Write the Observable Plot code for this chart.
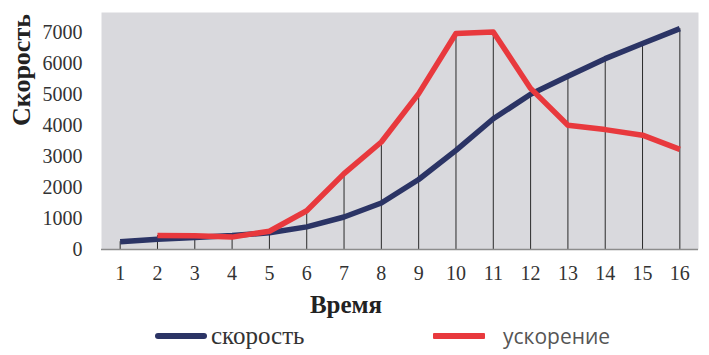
<!DOCTYPE html>
<html>
<head>
<meta charset="utf-8">
<script src="https://cdn.jsdelivr.net/npm/d3@7"></script>
<script src="https://cdn.jsdelivr.net/npm/@observablehq/plot@0.6"></script>
<style>
  body { margin: 0; background: #fff; }
  #wrap { position: relative; width: 709px; height: 355px; }
  .leg { position: absolute; top: 318px; height: 36px; display: flex; align-items: center; }
  .sw { display: inline-block; width: 52px; height: 6px; border-radius: 3px; }
  .serif { font-family: "Liberation Serif", serif; }
  .sans { font-family: "Open Sans", "Noto Sans", sans-serif; }
  svg text { font-family: "Liberation Serif", serif; }
</style>
</head>
<body>
<div id="wrap"></div>
<script>
const time = [1, 2, 3, 4, 5, 6, 7, 8, 9, 10, 11, 12, 13, 14, 15, 16];
const speed = [250, 330, 390, 450, 540, 730, 1050, 1500, 2260, 3200, 4220, 5010, 5590, 6160, 6650, 7130];
const accel = [null, 450, 440, 400, 590, 1250, 2450, 3470, 5030, 6970, 7020, 5200, 4010, 3870, 3690, 3230];
const yTicks = [0, 1000, 2000, 3000, 4000, 5000, 6000, 7000];
const seriesNames = ["скорость", "ускорение"];
const colors = ["#2b3465", "#e8393d"];

const rows = [];
time.forEach((t, i) => {
  rows.push({t, v: speed[i], s: seriesNames[0]});
  if (accel[i] != null) rows.push({t, v: accel[i], s: seriesNames[1]});
});
const drops = time.map((t, i) => ({t, top: Math.max(speed[i], accel[i] ?? 0)}));

const serif = "Liberation Serif";

const chart = Plot.plot({
  width: 709,
  height: 318,
  marginLeft: 101,
  marginRight: 11,
  marginTop: 12,
  marginBottom: 69,
  style: {background: "#fff", color: "#333"},
  x: {domain: [0.5, 16.5]},
  y: {domain: [0, 7650]},
  color: {domain: seriesNames, range: colors},
  marks: [
    Plot.frame({fill: "#d9d9dd", stroke: null}),
    Plot.ruleX(drops, {x: "t", y1: 0, y2: "top", stroke: "#2a2a2a", strokeWidth: 1}),
    Plot.line(rows, {x: "t", y: "v", stroke: "s", z: "s", strokeWidth: 5.5, strokeLinejoin: "round", strokeLinecap: "butt"}),
    Plot.ruleY([0], {stroke: "#8c8c8c", strokeWidth: 1.5}),
    Plot.axisY({ticks: yTicks, tickSize: 0, tickPadding: 19, fontSize: 20, fontFamily: serif, label: null, tickFormat: d => String(d), fill: "#333"}),
    Plot.axisX({ticks: time, tickSize: 0, tickPadding: 16, fontSize: 20, fontFamily: serif, label: null, fill: "#333"}),
    Plot.text(["Время"], {frameAnchor: "bottom", dx: -54, dy: 63, fontSize: 25, fontWeight: "bold", fill: "#222", fontFamily: serif}),
    Plot.text(["Скорость"], {frameAnchor: "left", dx: -80, dy: -5, rotate: -90, fontSize: 26, fontWeight: "bold", fill: "#222", fontFamily: serif})
  ]
});
const wrap = document.getElementById("wrap");
wrap.appendChild(chart);

const leg1 = document.createElement("div");
leg1.className = "leg";
leg1.style.left = "155px";
leg1.innerHTML = `<span class="sw" style="background:${colors[0]}"></span><span class="serif" style="font-size:25px;color:#333;margin-left:4px;">${seriesNames[0]}</span>`;
wrap.appendChild(leg1);

const leg2 = document.createElement("div");
leg2.className = "leg";
leg2.style.left = "433px";
leg2.innerHTML = `<span class="sw" style="background:${colors[1]};border-radius:1px"></span><span class="sans" style="font-size:21px;color:#555;margin-left:18px;">${seriesNames[1]}</span>`;
wrap.appendChild(leg2);
</script>
</body>
</html>
